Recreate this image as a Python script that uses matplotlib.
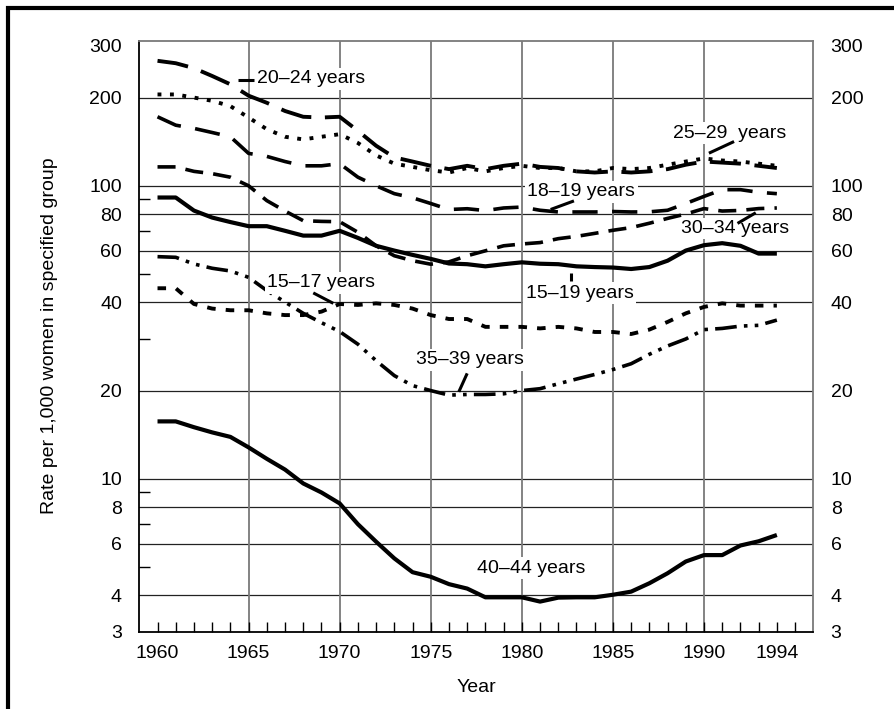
import matplotlib
matplotlib.use("Agg")
import matplotlib.pyplot as plt
from matplotlib.patches import Rectangle
from matplotlib.ticker import NullFormatter

plt.rcParams['font.family'] = ['Liberation Sans', 'DejaVu Sans']

# birth rates per 1,000 women, 1960-1994
years = list(range(1960, 1995))

rate_20_24 = [267, 262, 252, 237, 222, 203, 192, 180, 172, 171,
              172, 154, 137, 125, 121, 117, 114, 117, 114, 117,
              119, 116, 115, 112, 111, 112, 111, 112, 114, 118,
              121, 120, 119, 117, 115]
rate_25_29 = [205, 205, 200, 195, 187, 171, 156, 147, 144, 147,
              150, 140, 127, 119, 116, 113, 111, 115, 112, 115,
              117, 115, 115, 112, 112, 115, 114, 115, 118, 121,
              124, 122, 121, 119, 117]
rate_18_19 = [172, 161, 157, 152, 147, 129, 126, 121, 117, 117,
              119, 107, 100, 94, 91, 87, 83, 83.5, 82.3, 84,
              84.6, 82.5, 81.4, 81.4, 81.4, 81.7, 81.4, 81.5, 82.5, 87,
              92, 97, 97, 95, 94]
rate_30_34 = [116, 116, 112, 110, 107, 100, 89, 82, 76, 75.6,
              75.4, 69.4, 62.4, 57.7, 55.5, 54, 55, 57.7, 60, 62.4,
              63.3, 64, 66, 67.2, 68.8, 70.5, 72, 74.5, 77.4, 80.1,
              83.6, 82, 82.4, 83.6, 84]
rate_15_19 = [91.2, 91.2, 82.3, 77.9, 75.2, 72.8, 72.8, 70.2, 67.6, 67.6,
              70.2, 66.4, 62.4, 60.1, 58.1, 56.3, 54.3, 54.0, 53.1, 54.0,
              54.8, 54.2, 54.0, 53.1, 52.8, 52.6, 52.0, 52.8, 55.5, 60.1,
              62.7, 63.7, 62.4, 58.7, 58.7]
rate_15_17 = [44.7, 44.7, 39.5, 38.1, 37.6, 37.6, 36.7, 36.2, 36.2, 37.2,
              39.5, 39.2, 39.7, 39.2, 38.1, 36.2, 35.1, 35.1, 33.0, 33.0,
              33.0, 32.6, 33.0, 32.6, 31.7, 31.7, 31.2, 32.3, 34.3, 36.7,
              38.6, 39.7, 39.0, 39.0, 39.0]
rate_35_39 = [57.3, 57.0, 54.1, 52.3, 51.2, 48.7, 43.9, 40.1, 36.7, 34.1,
              31.8, 28.8, 25.3, 22.5, 20.8, 20.0, 19.3, 19.4, 19.4, 19.5,
              20.0, 20.3, 21.1, 21.9, 22.7, 23.6, 24.7, 26.6, 28.4, 30.0,
              32.3, 32.6, 33.2, 33.4, 34.8]
rate_40_44 = [15.7, 15.7, 15.0, 14.4, 13.9, 12.8, 11.7, 10.75, 9.64, 8.98,
              8.24, 7.0, 6.1, 5.35, 4.8, 4.63, 4.37, 4.22, 3.94, 3.94,
              3.94, 3.81, 3.93, 3.94, 3.94, 4.02, 4.12, 4.40, 4.76, 5.22,
              5.49, 5.49, 5.92, 6.12, 6.43]

ytick_vals = [3, 4, 6, 8, 10, 20, 40, 60, 80, 100, 200, 300]
ytick_minor = [5, 7, 9, 30, 50, 70, 90]
ygrid_vals = [4, 6, 8, 10, 20, 40, 60, 80, 100, 200]
xtick_vals = [1960, 1965, 1970, 1975, 1980, 1985, 1990, 1994]
xgrid_vals = [1965, 1970, 1975, 1980, 1985, 1990]

W, H = 895, 709
fig = plt.figure(figsize=(W / 100, H / 100), dpi=100)
ax = fig.add_axes([139.3 / W, 1 - 632 / H, 674 / W, 591 / H])

ax.set_yscale('log')
ax.set_ylim(3, 312)
ax.set_xlim(1959, 1996)

# grid
for v in ygrid_vals:
    ax.axhline(v, color='#222222', lw=0.9, zorder=1)
for v in xgrid_vals:
    ax.axvline(v, color='#7a7a7a', lw=1.3, zorder=1)

# series: (values, linestyle, linewidth)
series = [
    (rate_20_24, (0, (8, 3.5)), 2.8),
    (rate_25_29, (0, (1, 2.2)), 2.8),
    (rate_18_19, (0, (7, 4)), 2.6),
    (rate_30_34, (0, (5, 2.8)), 2.6),
    (rate_15_19, '-', 3.0),
    (rate_15_17, (0, (2.2, 2.6)), 2.8),
    (rate_35_39, (0, (6, 2, 1, 2, 1, 2)), 2.6),
    (rate_40_44, '-', 3.0),
]
for vals, ls, lw in series:
    ax.plot(years, vals, color='black', ls=ls, lw=lw, zorder=3,
            dash_capstyle='butt', solid_capstyle='butt')

# labels with leader lines
labels = [
    ("20\u201324 years", 1965.48, 232, 'left', [(1964.44, 1965.3), (229, 229)]),
    ("25\u201329  years", 1991.41, 151.4, 'center', [(1991.65, 1990.27), (141.6, 129.2)]),
    ("18\u201319 years", 1983.27, 95.3, 'center', [(1982.86, 1981.58), (88.8, 83.0)]),
    ("30\u201334 years", 1991.69, 71.5, 'center', [(1991.84, 1992.84), (74.4, 80.9)]),
    ("15\u201319 years", 1983.17, 43.0, 'center', [(1982.71, 1982.71), (50.3, 47.3)]),
    ("15\u201317 years", 1969.0, 46.6, 'center', [(1968.55, 1969.65), (43.1, 39.7)]),
    ("35\u201339 years", 1977.14, 25.5, 'center', [(1977.0, 1976.54), (22.9, 19.8)]),
    ("40\u201344 years", 1980.52, 4.95, 'center', None),
]
for txt, x, y, ha, leader in labels:
    ax.text(x, y, txt, ha=ha, va='center', fontsize=14, zorder=5,
            bbox=dict(boxstyle='square,pad=0.12', fc='white', ec='none'))
    if leader:
        ax.plot(leader[0], leader[1], color='black', lw=2.2, zorder=6,
                solid_capstyle='butt')

# ticks
ax.set_yticks(ytick_vals)
ax.set_yticklabels([str(v) for v in ytick_vals])
ax.set_yticks(ytick_minor + [300], minor=True)
ax.yaxis.set_minor_formatter(NullFormatter())
ax.tick_params(axis='y', which='both', direction='in', length=8, width=1,
               left=True, right=False, labelleft=True, labelright=True,
               labelsize=14, pad=12.5)
ax.tick_params(axis='y', which='major', length=0)

ax.set_xticks(xtick_vals)
ax.set_xticklabels([str(v) for v in xtick_vals])
ax.set_xticks([y for y in range(1960, 1996) if y not in xtick_vals], minor=True)
ax.tick_params(axis='x', which='both', direction='in', length=7, width=1,
               top=False, labelsize=14, pad=9)

for side in ['left', 'bottom']:
    ax.spines[side].set_color('black')
    ax.spines[side].set_linewidth(1.3)
for side in ['top', 'right']:
    ax.spines[side].set_color('#7a7a7a')
    ax.spines[side].set_linewidth(1.3)

fig.text(50 / W, 1 - 336 / H, "Rate per 1,000 women in specified group",
         rotation=90, ha='center', va='center', fontsize=14)
fig.text(476.5 / W, 1 - 688 / H, "Year", ha='center', va='center', fontsize=14)

# outer frame (only top and left edges fall inside the picture)
fig.patches.append(Rectangle((8 / W, -0.5), 2, 1.5 - 8 / H, transform=fig.transFigure,
                             fill=False, ec='black', lw=3, clip_on=False))

fig.savefig("out.png", dpi=100)
